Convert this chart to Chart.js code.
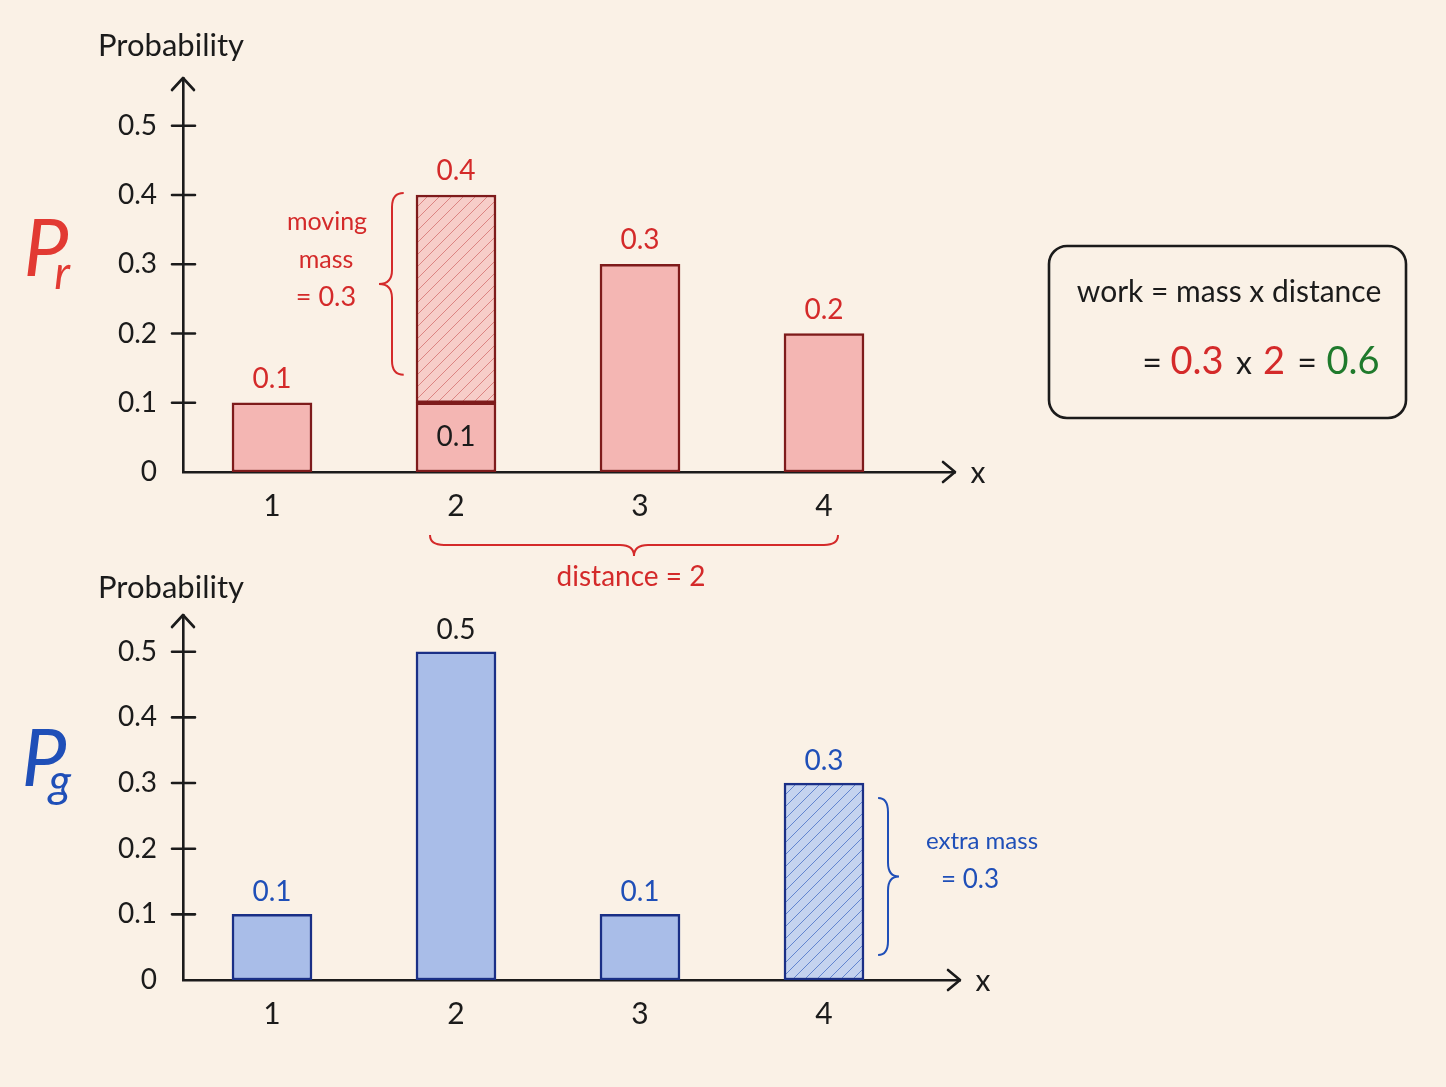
<!DOCTYPE html>
<html>
<head>
<meta charset="utf-8">
<title>Earth mover's distance</title>
<script src="https://cdn.jsdelivr.net/npm/chart.js@4.4.1/dist/chart.umd.min.js"></script>
<style>
  html, body { margin: 0; padding: 0; background: #faf1e6; }
  body { width: 1446px; height: 1087px; position: relative; overflow: hidden; }
  canvas { position: absolute; left: 0; }
  #top { top: 0; }
  #bottom { top: 560px; }
</style>
</head>
<body>
<canvas id="top" width="1446" height="600"></canvas>
<canvas id="bottom" width="1446" height="527"></canvas>
<script>
// values
const xValues = [1, 2, 3, 4];
const yTicks = [0, 0.1, 0.2, 0.3, 0.4, 0.5];

// P_r: mass that stays + mass that moves away
const prStay = [0.1, 0.1, 0.3, 0.2];
const prMoving = [null, 0.3, null, null];
const prTotal = [0.1, 0.4, 0.3, 0.2];

// P_g: base mass + extra mass that arrives
const pgBase = [0.1, 0.5, 0.1, null];
const pgExtra = [null, null, null, 0.3];
const pgTotal = [0.1, 0.5, 0.1, 0.3];

const FONT = 'Lato, "Noto Sans", sans-serif';
const INK = '#1b1b1b';
const RED = '#d42a2a';
const RED_DARK = '#7e1b1b';
const BLUE = '#1f4fb8';
const BLUE_DARK = '#1a2f86';
const GREEN = '#1f7a2c';
const PX_PER_UNIT = 184; // horizontal spacing between x = 1,2,3,4

// Hatch pattern for moved / added mass
function makeHatch(bg, line) {
    const c = document.createElement('canvas');
    c.width = 12; c.height = 12;
    const g = c.getContext('2d');
    g.fillStyle = bg;
    g.fillRect(0, 0, 12, 12);
    g.strokeStyle = line;
    g.lineWidth = 1;
    g.beginPath();
    g.moveTo(0, 12); g.lineTo(12, 0);
    g.moveTo(-6, 6); g.lineTo(6, -6);
    g.moveTo(6, 18); g.lineTo(18, 6);
    g.stroke();
    return g.createPattern(c, 'repeat');
}

// curly brace; horizontal=false -> vertical spine at c, tip offset by d
function brace(ctx, a1, a2, c, d, horizontal) {
    const m = (a1 + a2) / 2;
    const r = 14;
    const P = (a, b) => horizontal ? [a, b] : [b, a];
    ctx.beginPath();
    ctx.moveTo(...P(a1, c - d * 0.9));
    ctx.quadraticCurveTo(...P(a1, c), ...P(a1 + r, c));
    ctx.lineTo(...P(m - r, c));
    ctx.quadraticCurveTo(...P(m, c), ...P(m, c + d));
    ctx.quadraticCurveTo(...P(m, c), ...P(m + r, c));
    ctx.lineTo(...P(a2 - r, c));
    ctx.quadraticCurveTo(...P(a2, c), ...P(a2, c - d * 0.9));
    ctx.stroke();
}

function text(ctx, str, x, y, size, color, opts = {}) {
    ctx.save();
    ctx.font = (opts.style || '') + ' ' + size + 'px ' + (opts.family || FONT);
    ctx.fillStyle = color;
    ctx.textAlign = opts.align || 'center';
    ctx.textBaseline = 'middle';
    ctx.fillText(str, x, y);
    ctx.restore();
}

// arrows, tick crosses and axis titles shared by both panels
function drawAxesDecor(chart, titleY) {
    const { ctx, chartArea, scales } = chart;
    const ax = chartArea.left, ay = chartArea.bottom;
    ctx.save();
    ctx.strokeStyle = INK;
    ctx.lineWidth = 2.6;
    ctx.lineCap = 'round';
    ctx.lineJoin = 'round';
    ctx.beginPath();
    ctx.moveTo(ax - 11, chartArea.top + 12);
    ctx.lineTo(ax, chartArea.top);
    ctx.lineTo(ax + 11, chartArea.top + 12);
    ctx.moveTo(chartArea.right - 12, ay - 10);
    ctx.lineTo(chartArea.right, ay);
    ctx.lineTo(chartArea.right - 12, ay + 10);
    yTicks.forEach(v => {
        if (v === 0) return;
        const y = scales.y.getPixelForValue(v);
        ctx.moveTo(ax - 11, y);
        ctx.lineTo(ax + 12, y);
    });
    ctx.stroke();
    ctx.restore();
    text(ctx, 'Probability', ax - 12, titleY, 31, INK);
    text(ctx, 'x', chartArea.right + 23, ay + 1, 30, INK);
}

function yScaleOptions(max, width) {
    return {
        type: 'linear', min: 0, max: max,
        afterBuildTicks: s => { s.ticks = yTicks.map(v => ({ value: v })); },
        afterFit: s => { s.width = width; },
        grid: { display: false, drawTicks: false },
        border: { display: true, color: INK, width: 2.6 },
        ticks: {
            color: INK, padding: 26, font: { family: FONT, size: 28 },
            callback: v => v === 0 ? '0' : v.toFixed(1)
        }
    };
}

// areaWidth: pixel width of the plot area, first category sits 89px from the y axis
function xScaleOptions(height, areaWidth) {
    const min = 1 - 89 / PX_PER_UNIT;
    return {
        type: 'linear', min: min, max: min + areaWidth / PX_PER_UNIT, offset: false,
        afterBuildTicks: s => { s.ticks = xValues.map(v => ({ value: v })); },
        afterFit: s => { s.height = height; },
        grid: { display: false, drawTicks: false, offset: false },
        border: { display: true, color: INK, width: 2.6 },
        ticks: { color: INK, padding: 16, font: { family: FONT, size: 30 } }
    };
}

function barSet(values, base, fill, border) {
    return {
        data: xValues.map((x, i) => ({
            x: x,
            y: values[i] === null ? null : [base ? base[i] : 0, (base ? base[i] : 0) + values[i]]
        })),
        backgroundColor: fill,
        borderColor: border,
        borderWidth: 2.5,
        borderSkipped: false,
        barThickness: 80,
        grouped: false
    };
}

// ---------- top panel: P_r ----------
const topCanvas = document.getElementById('top');
const topCtx = topCanvas.getContext('2d');
const redFill = '#f4b6b3';
const redHatch = makeHatch('#f7cdc8', '#dc8482');

const topDecor = {
    id: 'topDecor',
    afterDraw(chart) {
        const { ctx, scales } = chart;
        drawAxesDecor(chart, 46);
        const xs = scales.x, ys = scales.y;

        // value labels
        prTotal.forEach((v, i) => {
            text(ctx, v.toFixed(1), xs.getPixelForValue(xValues[i]), ys.getPixelForValue(v) - 24, 28, RED);
        });
        text(ctx, prStay[1].toFixed(1), xs.getPixelForValue(xValues[1]), ys.getPixelForValue(prStay[1] / 2), 28, INK);

        // P_r symbol
        text(ctx, 'P', 46, 250, 80, '#e23a33', { style: 'italic' });
        text(ctx, 'r', 62, 274, 46, '#e23a33', { style: 'italic' });

        // moving mass brace
        ctx.save();
        ctx.strokeStyle = RED;
        ctx.lineWidth = 2;
        brace(ctx, ys.getPixelForValue(prTotal[1]) - 2, ys.getPixelForValue(prStay[1]) - 28,
              xs.getPixelForValue(2) - 40 - 24, -13, false);
        ctx.restore();
        text(ctx, 'moving', 327, 222, 25, RED);
        text(ctx, 'mass', 326, 260, 25, RED);
        text(ctx, '= 0.3', 326, 297, 27, RED);

        // distance brace under the axis
        ctx.save();
        ctx.strokeStyle = RED;
        ctx.lineWidth = 2;
        brace(ctx, xs.getPixelForValue(2) - 26, xs.getPixelForValue(4) + 14, 545, 11, true);
        ctx.restore();
        text(ctx, 'distance = 2', 631, 577, 28, RED);

        // work box
        ctx.save();
        ctx.strokeStyle = INK;
        ctx.lineWidth = 2.6;
        ctx.beginPath();
        ctx.roundRect(1049, 246, 357, 172, 18);
        ctx.stroke();
        ctx.restore();
        text(ctx, 'work = mass x distance', 1229, 292, 30, INK);
        text(ctx, '=', 1152, 364, 34, INK);
        text(ctx, '0.3', 1197, 362, 38, RED);
        text(ctx, 'x', 1244, 364, 32, INK);
        text(ctx, '2', 1274, 362, 38, RED);
        text(ctx, '=', 1307, 364, 34, INK);
        text(ctx, '0.6', 1353, 362, 38, GREEN);
    }
};

new Chart(topCtx, {
    type: 'bar',
    data: {
        datasets: [
            barSet(prStay, null, redFill, RED_DARK),
            barSet(prMoving, prStay, redHatch, RED_DARK)
        ]
    },
    options: {
        responsive: false,
        animation: false,
        layout: { padding: { left: 0, top: 78, right: 491, bottom: 0 } },
        plugins: { legend: { display: false }, tooltip: { enabled: false } },
        scales: { x: xScaleOptions(128, 772), y: yScaleOptions(0.569, 183) }
    },
    plugins: [topDecor]
});

// ---------- bottom panel: P_g ----------
const bottomCanvas = document.getElementById('bottom');
const bottomCtx = bottomCanvas.getContext('2d');
const blueFill = '#a9bde8';
const blueHatch = makeHatch('#c4d3ef', '#6285cf');
const pgLabelColors = [BLUE, INK, BLUE, BLUE];

const bottomDecor = {
    id: 'bottomDecor',
    afterDraw(chart) {
        const { ctx, scales } = chart;
        drawAxesDecor(chart, 28);
        const xs = scales.x, ys = scales.y;

        pgTotal.forEach((v, i) => {
            text(ctx, v.toFixed(1), xs.getPixelForValue(xValues[i]), ys.getPixelForValue(v) - 22, 28, pgLabelColors[i]);
        });

        text(ctx, 'P', 44, 200, 80, BLUE, { style: 'italic' });
        text(ctx, 'g', 60, 222, 46, BLUE, { style: 'italic' });

        // extra mass brace
        const spine = xs.getPixelForValue(4) + 40 + 24;
        ctx.save();
        ctx.strokeStyle = BLUE;
        ctx.lineWidth = 2;
        brace(ctx, ys.getPixelForValue(pgTotal[3]) + 15, ys.getPixelForValue(0) - 25, spine, 11, false);
        ctx.restore();
        text(ctx, 'extra mass', spine + 94, 281, 24, BLUE);
        text(ctx, '= 0.3', spine + 82, 320, 26, BLUE);
    }
};

new Chart(bottomCtx, {
    type: 'bar',
    data: {
        datasets: [
            barSet(pgBase, null, blueFill, BLUE_DARK),
            barSet(pgExtra, null, blueHatch, BLUE_DARK)
        ]
    },
    options: {
        responsive: false,
        animation: false,
        layout: { padding: { left: 0, top: 55, right: 486, bottom: 0 } },
        plugins: { legend: { display: false }, tooltip: { enabled: false } },
        scales: { x: xScaleOptions(107, 777), y: yScaleOptions(0.556, 183) }
    },
    plugins: [bottomDecor]
});
</script>
</body>
</html>
